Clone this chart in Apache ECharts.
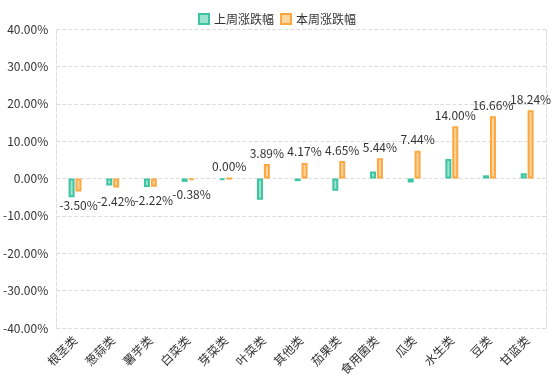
<!DOCTYPE html>
<html>
<head>
<meta charset="utf-8">
<script src="https://cdn.jsdelivr.net/npm/echarts@6/dist/echarts.min.js"></script>
<style>html,body{margin:0;padding:0;background:#fff;}#c{width:554px;height:385px;}</style>
</head>
<body>
<div id="c"></div>
<script>
const categories = ['根茎类','葱蒜类','薯芋类','白菜类','芽菜类','叶菜类','其他类','茄果类','食用菌类','瓜类','水生类','豆类','甘蓝类'];
const lastWeek = [-5.0,-1.9,-2.3,-0.9,-0.4,-5.7,-0.7,-3.3,1.9,-1.1,5.2,0.85,1.4];
const thisWeek = [-3.50,-2.42,-2.22,-0.38,0.00,3.89,4.17,4.65,5.44,7.44,14.00,16.66,18.24];
const yTicks = [-40,-30,-20,-10,0,10,20,30,40];
const seriesNames = ['上周涨跌幅','本周涨跌幅'];

const font = '"Noto Sans CJK SC", "Noto Sans", sans-serif';
const chart = echarts.init(document.getElementById('c'));
chart.setOption({
  animation: false,
  textStyle: {fontFamily: font},
  legend: {
    top: 8, left: 'center', itemWidth: 10, itemHeight: 10, itemGap: 6, icon: 'rect',
    textStyle: {fontSize: 12, color: '#333', fontFamily: font},
    data: seriesNames
  },
  grid: {left: 55, right: 8, top: 29, bottom: 57},
  xAxis: {
    type: 'category', data: categories,
    axisLine: {show: false}, axisTick: {show: false},
    axisLabel: {rotate: 45, fontSize: 12, color: '#333', margin: 10, interval: 0, fontFamily: font}
  },
  yAxis: [{
    type: 'value', min: yTicks[0], max: yTicks[yTicks.length-1], interval: 10,
    axisLine: {show: true, lineStyle: {type: 'dashed', color: '#ddd'}},
    axisTick: {show: false},
    splitLine: {show: true, lineStyle: {type: 'dashed', color: '#ddd'}},
    axisLabel: {fontSize: 12, color: '#333', formatter: v => v.toFixed(2) + '%', fontFamily: font}
  },{
    type: 'value', position: 'right', min: yTicks[0], max: yTicks[yTicks.length-1], interval: 10,
    axisLine: {show: true, lineStyle: {type: 'dashed', color: '#ddd'}},
    axisTick: {show: false}, splitLine: {show: false}, axisLabel: {show: false}
  }],
  series: [{
    name: seriesNames[0], type: 'bar', barWidth: 6, barGap: '15%',
    itemStyle: {color: '#9de3d0', borderColor: '#3dc5a3', borderWidth: 2},
    data: lastWeek
  },{
    name: seriesNames[1], type: 'bar', barWidth: 6,
    itemStyle: {color: '#ffd49e', borderColor: '#fba842', borderWidth: 2},
    label: {show: true, fontSize: 12, color: '#333', distance: 5, formatter: p => p.value.toFixed(2) + '%', fontFamily: font},
    data: thisWeek.map(v => ({value: v, label: {position: v < 0 ? 'bottom' : 'top', distance: v < 0 ? 8 : 5}}))
  }]
});
</script>
</body>
</html>
